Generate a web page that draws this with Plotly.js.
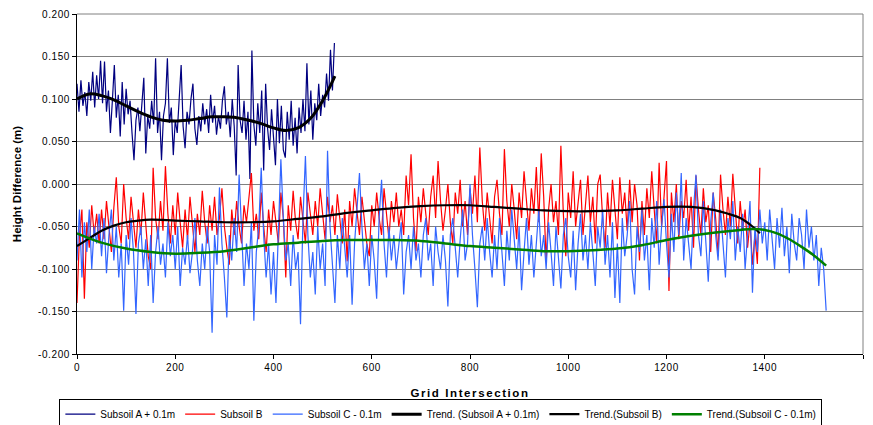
<!DOCTYPE html>
<html>
<head>
<meta charset="utf-8">
<script src="https://cdn.plot.ly/plotly-3.0.1.min.js"></script>
<style>
html,body{margin:0;padding:0;background:#fff;}
#chart{width:873px;height:425px;}
#chart .xtitle{letter-spacing:1.6px;}
#chart .xtick text,#chart .ytick text{letter-spacing:0.6px;}
</style>
</head>
<body>
<div id="chart"></div>
<script>
// ---- data ----
const seriesNames = ["Subsoil A + 0.1m", "Subsoil B", "Subsoil C - 0.1m",
  "Trend. (Subsoil A + 0.1m)", "Trend.(Subsoil B)", "Trend.(Subsoil C - 0.1m)"];

const stepA = 4;
const subsoilA = [
 0.118,0.085,0.122,0.092,0.108,0.080,0.120,0.098,0.132,0.090,
 0.128,0.100,0.145,0.095,0.144,0.085,0.110,0.060,0.098,0.140,
 0.078,0.105,0.056,0.120,0.070,0.112,0.082,0.098,0.060,0.028,
 0.075,0.090,0.062,0.100,0.125,0.036,0.080,0.065,0.098,0.070,
 0.148,0.060,0.085,0.028,0.080,0.095,0.148,0.072,0.090,0.034,
 0.075,0.060,0.100,0.140,0.068,0.042,0.085,0.070,0.100,0.118,
 0.065,0.046,0.080,0.062,0.095,0.070,0.088,0.060,0.105,0.072,
 0.092,0.058,0.080,0.065,0.098,0.115,0.070,0.085,0.055,0.100,
 0.068,0.010,0.140,0.075,0.060,0.098,0.052,0.085,0.006,0.157,
 0.070,0.045,0.095,0.060,0.110,0.016,0.118,0.065,0.040,0.088,
 0.055,0.022,0.100,0.048,0.092,0.040,0.031,0.085,0.052,0.098,
 0.045,0.078,0.036,0.090,0.060,0.100,0.062,0.142,0.070,0.110,
 0.052,0.095,0.075,0.118,0.080,0.105,0.090,0.130,0.098,0.158,
 0.110,0.166
];

const stepB = 5;
const subsoilB = [
 -0.140,-0.060,-0.030,-0.135,-0.045,-0.075,-0.025,-0.060,-0.035,-0.070,
 -0.030,-0.065,-0.020,-0.055,-0.080,-0.028,0.008,-0.050,-0.070,0.000,
 -0.040,-0.065,-0.015,-0.045,-0.075,-0.030,-0.060,-0.010,-0.050,-0.085,
 -0.100,0.019,-0.040,-0.065,-0.020,-0.055,0.021,-0.035,-0.070,-0.025,
 -0.060,-0.010,-0.045,-0.075,-0.030,-0.065,-0.015,-0.050,-0.080,-0.035,
 -0.060,-0.008,-0.045,-0.070,-0.025,-0.055,-0.015,-0.060,-0.040,-0.005,
 -0.050,-0.075,-0.095,-0.030,-0.060,-0.020,-0.050,-0.070,-0.025,-0.045,
 -0.015,0.013,-0.055,-0.035,-0.065,-0.010,-0.050,-0.080,-0.030,-0.060,
 -0.020,-0.045,-0.070,-0.010,-0.040,-0.110,-0.025,-0.055,-0.008,-0.045,
 -0.065,-0.015,-0.040,-0.070,-0.010,-0.035,-0.060,-0.020,-0.050,-0.005,
 -0.040,-0.065,-0.015,-0.045,-0.025,-0.060,-0.012,-0.040,-0.070,-0.030,
 -0.091,-0.020,-0.050,-0.005,-0.035,-0.060,-0.015,-0.045,-0.070,-0.085,
 -0.025,-0.050,-0.010,-0.040,-0.060,-0.005,-0.035,-0.065,-0.020,-0.045,
 -0.010,-0.050,-0.030,-0.060,0.010,-0.025,0.035,-0.040,-0.079,-0.015,
 -0.045,-0.005,-0.035,-0.060,-0.015,0.010,-0.040,0.027,-0.020,-0.055,
 -0.030,0.000,-0.045,-0.070,-0.010,-0.035,0.005,-0.050,-0.020,-0.060,
 -0.005,-0.035,0.010,-0.045,0.043,-0.020,-0.055,-0.010,-0.040,-0.070,
 -0.015,0.005,-0.035,-0.060,0.041,-0.020,-0.050,0.000,-0.030,-0.065,
 -0.010,-0.040,0.015,-0.025,-0.055,-0.005,-0.035,0.020,-0.045,0.036,
 -0.015,-0.091,-0.030,0.000,-0.045,-0.020,-0.060,0.045,-0.035,-0.085,
 -0.010,-0.040,0.015,-0.050,-0.020,0.005,-0.060,-0.025,0.010,-0.045,
 -0.015,-0.070,0.000,0.011,-0.040,-0.075,-0.010,-0.050,0.005,-0.030,
 -0.065,0.008,-0.035,-0.010,-0.055,0.005,-0.045,0.000,-0.025,-0.090,
 -0.020,-0.060,-0.005,-0.040,0.015,-0.030,-0.070,0.025,-0.050,-0.015,
 0.027,-0.126,-0.010,-0.045,0.000,-0.065,-0.020,-0.040,0.005,-0.055,
 -0.015,-0.075,0.010,-0.030,-0.060,-0.005,-0.045,-0.025,-0.080,-0.010,
 -0.040,-0.085,0.011,-0.030,-0.060,-0.015,-0.050,0.012,-0.035,-0.070,
 -0.020,-0.055,-0.030,-0.075,-0.045,-0.095,-0.060,-0.094,0.019
];

const stepC = 5;
const subsoilC = [
 -0.090,-0.030,-0.110,-0.045,-0.080,-0.030,-0.100,-0.050,-0.070,-0.035,
 -0.085,-0.040,-0.105,-0.060,-0.030,-0.090,-0.050,-0.110,-0.070,-0.149,
 -0.060,-0.095,-0.040,-0.080,-0.153,-0.070,-0.050,-0.100,-0.065,-0.120,
 -0.060,-0.140,-0.080,-0.050,-0.095,-0.070,-0.110,-0.045,-0.085,-0.060,
 -0.100,-0.050,-0.120,-0.075,-0.095,-0.060,-0.105,-0.080,-0.040,-0.090,
 -0.120,-0.070,-0.100,-0.050,-0.080,-0.175,-0.060,-0.095,-0.004,-0.070,
 -0.110,-0.157,-0.060,-0.090,-0.040,-0.080,0.011,-0.060,-0.120,-0.070,
 -0.100,-0.045,-0.161,-0.080,-0.050,0.019,-0.060,-0.110,-0.070,-0.130,
 -0.080,-0.140,-0.050,0.029,-0.040,-0.090,-0.070,-0.120,-0.060,-0.100,
 -0.080,-0.165,-0.040,0.033,-0.060,-0.110,-0.080,-0.130,-0.050,-0.100,
 -0.070,-0.120,0.039,-0.050,-0.095,-0.140,-0.060,-0.100,-0.040,-0.080,
 -0.110,-0.060,-0.142,-0.070,-0.030,0.013,-0.050,-0.100,-0.070,-0.120,
 -0.060,-0.090,-0.135,-0.040,0.005,-0.070,-0.110,-0.050,-0.090,-0.060,
 -0.100,-0.070,-0.045,-0.130,-0.080,-0.060,-0.100,-0.050,-0.090,-0.070,
 -0.110,-0.060,-0.040,-0.090,-0.070,-0.120,-0.050,-0.080,-0.100,-0.060,
 -0.090,-0.144,-0.060,-0.040,-0.080,-0.110,-0.065,-0.030,-0.090,-0.070,
 0.000,-0.060,-0.100,-0.145,-0.070,-0.050,-0.090,-0.040,-0.080,-0.110,
 -0.060,-0.100,-0.040,-0.075,-0.120,-0.055,-0.090,-0.030,-0.070,-0.100,
 -0.050,-0.125,-0.080,-0.040,-0.095,-0.060,-0.110,-0.070,-0.030,-0.085,
 -0.060,-0.100,-0.045,-0.080,-0.120,-0.050,-0.090,-0.123,-0.060,-0.040,
 -0.085,-0.110,-0.055,-0.125,-0.070,-0.035,-0.090,-0.060,-0.100,-0.045,
 -0.080,-0.120,-0.050,-0.075,-0.030,-0.095,-0.060,-0.110,-0.045,-0.134,
 -0.070,-0.140,-0.040,-0.085,-0.060,-0.020,-0.100,-0.130,-0.050,-0.080,
 -0.030,-0.090,-0.060,-0.125,-0.040,-0.075,-0.020,-0.095,-0.050,-0.018,
 -0.070,-0.110,-0.035,-0.080,-0.010,-0.060,0.013,-0.090,-0.040,-0.070,
 -0.100,-0.030,0.011,-0.060,-0.085,-0.020,-0.070,-0.115,-0.045,-0.010,
 -0.060,-0.090,-0.030,-0.075,-0.110,-0.040,-0.065,-0.020,-0.090,-0.050,
 -0.080,-0.035,-0.100,-0.060,-0.020,-0.128,-0.050,-0.080,-0.030,-0.070,
 -0.045,-0.090,-0.030,-0.065,-0.100,-0.040,-0.075,-0.028,-0.085,-0.050,
 -0.105,-0.035,-0.070,-0.090,-0.040,-0.060,-0.100,-0.030,-0.075,-0.050,
 -0.090,-0.060,-0.120,-0.075,-0.100,-0.149
];

// trend lines (read at selected grid intersections)
const trendAx = [0,25,50,75,100,125,150,175,200,225,250,275,300,325,350,375,400,425,450,475,500,525];
const trendAy = [0.100,0.106,0.104,0.099,0.092,0.085,0.079,0.075,0.074,0.075,0.077,0.079,0.079,0.078,0.075,0.071,0.066,0.063,0.066,0.077,0.098,0.127];

const trendBx = [0,25,50,75,100,125,150,200,250,300,350,400,450,500,550,600,650,700,750,800,850,900,950,1000,1050,1100,1150,1200,1250,1300,1325,1350,1375,1390];
const trendBy = [-0.073,-0.064,-0.055,-0.049,-0.045,-0.043,-0.042,-0.043,-0.044,-0.045,-0.045,-0.044,-0.041,-0.038,-0.034,-0.031,-0.028,-0.026,-0.025,-0.025,-0.027,-0.029,-0.031,-0.032,-0.032,-0.031,-0.029,-0.027,-0.027,-0.031,-0.035,-0.040,-0.050,-0.058];

const trendCx = [0,50,100,150,200,250,300,350,400,450,500,550,600,650,700,750,800,850,900,950,1000,1050,1100,1150,1200,1250,1300,1350,1375,1400,1425,1450,1475,1500,1525];
const trendCy = [-0.058,-0.069,-0.076,-0.080,-0.082,-0.081,-0.079,-0.075,-0.071,-0.069,-0.067,-0.066,-0.066,-0.066,-0.067,-0.070,-0.073,-0.075,-0.077,-0.079,-0.079,-0.078,-0.076,-0.072,-0.066,-0.061,-0.057,-0.054,-0.053,-0.054,-0.058,-0.065,-0.074,-0.084,-0.096];

const yTickVals = [0.2,0.15,0.1,0.05,0,-0.05,-0.1,-0.15,-0.2];
const yTickText = ["0.200","0.150","0.100","0.050","0.000","-0.050","-0.100","-0.150","-0.200"];
const xTickVals = [0,200,400,600,800,1000,1200,1400,1600];

// ---- build ----
const xs = (arr, step) => arr.map((_, i) => i * step);

const traces = [
  {x: xs(subsoilA, stepA), y: subsoilA, name: seriesNames[0], mode: "lines", line: {color: "#000080", width: 1.2}},
  {x: xs(subsoilB, stepB), y: subsoilB, name: seriesNames[1], mode: "lines", line: {color: "#FF0000", width: 1.2}},
  {x: xs(subsoilC, stepC), y: subsoilC, name: seriesNames[2], mode: "lines", line: {color: "#3366FF", width: 1.2}},
  {x: trendAx, y: trendAy, name: seriesNames[3], mode: "lines", line: {color: "#000000", width: 3, shape: "spline"}},
  {x: trendBx, y: trendBy, name: seriesNames[4], mode: "lines", line: {color: "#000000", width: 2.2, shape: "spline"}},
  {x: trendCx, y: trendCy, name: seriesNames[5], mode: "lines", line: {color: "#008000", width: 2.5, shape: "spline"}}
];

const font = "Liberation Sans, Arial, sans-serif";
const layout = {
  width: 873, height: 425,
  margin: {l: 77, r: 10, t: 14, b: 71},
  paper_bgcolor: "#ffffff", plot_bgcolor: "#ffffff",
  font: {family: font, size: 10, color: "#000000"},
  showlegend: true,
  legend: {
    orientation: "h", xref: "container", yref: "container",
    x: 0.505, xanchor: "center", y: 0.062, yanchor: "top",
    bordercolor: "#000000", borderwidth: 1, bgcolor: "#ffffff",
    font: {family: font, size: 10, color: "#000000"},
    itemwidth: 30, tracegroupgap: 0
  },
  xaxis: {
    range: [0, 1600], tickvals: xTickVals, ticktext: xTickVals.map(String),
    showgrid: false, zeroline: false, showline: true, linecolor: "#000000", linewidth: 1,
    ticks: "outside", ticklen: 4, tickcolor: "#000000",
    tickfont: {family: font, size: 10, color: "#000000"},
    title: {text: "<b>Grid Intersection</b>", font: {family: font, size: 11.5, color: "#000000"}, standoff: 16}
  },
  yaxis: {
    range: [-0.2, 0.2], tickvals: yTickVals, ticktext: yTickText,
    showgrid: true, gridcolor: "#808080", gridwidth: 1, zeroline: false,
    showline: true, linecolor: "#000000", linewidth: 1,
    ticks: "outside", ticklen: 4, tickcolor: "#000000",
    tickfont: {family: font, size: 10, color: "#000000"},
    title: {text: "<b>Height Difference (m)</b>", font: {family: font, size: 11.5, color: "#000000"}, standoff: 17}
  },
  shapes: [
    {type: "line", xref: "paper", yref: "paper", x0: 1, x1: 1, y0: 0, y1: 1, line: {color: "#808080", width: 1}},
    {type: "line", xref: "paper", yref: "paper", x0: 0, x1: 1, y0: 1, y1: 1, line: {color: "#808080", width: 1}}
  ]
};

Plotly.newPlot("chart", traces, layout, {staticPlot: true, displayModeBar: false});
</script>
</body>
</html>
